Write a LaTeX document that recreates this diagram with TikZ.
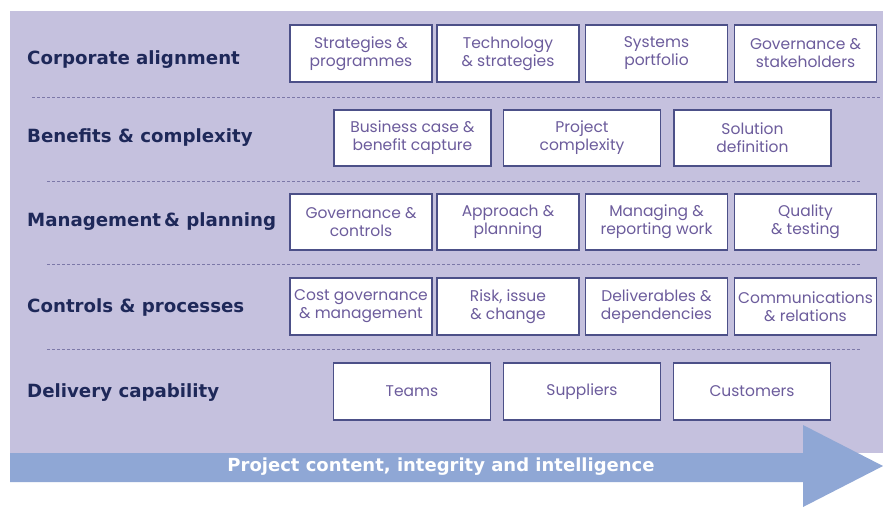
\documentclass[tikz,border=0pt]{standalone}
\usepackage{fontspec}
\setmainfont{DejaVu Sans}
\newfontfamily\boxfont{Poppins}
\definecolor{lav}{HTML}{C5C1DE}
\definecolor{arrowblue}{HTML}{8FA7D5}
\definecolor{navy}{HTML}{1E2859}
\definecolor{boxtext}{HTML}{6C5C9C}
\definecolor{boxline}{HTML}{4C5088}
\definecolor{dashcol}{HTML}{7C78A8}
\tikzset{
  cell/.style={draw=boxline, line width=1.5pt, fill=white, inner sep=0pt,
    minimum height=56pt, align=center, text=boxtext,
    font=\boxfont\fontsize{15.5}{18}\selectfont},
  wide/.style={cell, minimum width=142pt},
  wider/.style={cell, minimum width=157pt},
  rowlabel/.style={anchor=west, text=navy, inner sep=0pt,
    font=\bfseries\fontsize{18.2}{21}\selectfont},
  sep/.style={draw=dashcol, line width=1pt, dash pattern=on 3pt off 2pt},
}
\begin{document}
\begin{tikzpicture}[x=1pt,y=-1pt]
\useasboundingbox (0,0) rectangle (883,507);
\fill[white] (0,0) rectangle (883,507);
\fill[lav] (10,11) rectangle (883,453);
\fill[arrowblue] (10,453) -- (803,453) -- (803,425) -- (883,466) -- (803,507) -- (803,482) -- (10,482) -- cycle;
\node[text=white, font=\bfseries\fontsize{18}{20}\selectfont, inner sep=0pt] (arrowtext) at (441,467) {Project content, integrity and intelligence};

% separators
\coordinate (s1a) at (32,97);  \coordinate (s1b) at (881,97);
\coordinate (s2a) at (47,181); \coordinate (s2b) at (860,181);
\coordinate (s3a) at (47,264); \coordinate (s3b) at (860,264);
\coordinate (s4a) at (47,349); \coordinate (s4b) at (860,349);
\draw[sep] (s1a) -- (s1b);
\draw[sep] (s2a) -- (s2b);
\draw[sep] (s3a) -- (s3b);
\draw[sep] (s4a) -- (s4b);

% row labels
\node[rowlabel] (l1) at (27,60) {Corporate alignment};
\node[rowlabel] (l2) at (27,138) {Benefits \& complexity};
\node[rowlabel] (l3) at (27,222) {Management\,\& planning};
\node[rowlabel] (l4) at (27,307) {Controls \& processes};
\node[rowlabel] (l5) at (27,393) {Delivery capability};

% row 1
\node[wide, minimum height=57pt] (a1) at (361,53.5) {Strategies \&\\programmes};
\node[wide, minimum height=57pt] (a2) at (508,53.5) {Technology\\\& strategies};
\node[wide, minimum height=57pt] (a3) at (656.5,53.5) {Systems\\portfolio};
\node[wide, minimum height=57pt] (a4) at (805.5,53.5) {Governance \&\\stakeholders};
% row 2
\node[wider] (b1) at (412.5,138) {Business case \&\\benefit capture};
\node[wider] (b2) at (582,138) {Project\\complexity};
\node[wider] (b3) at (752.5,138) {Solution\\definition};
% row 3
\node[wide] (c1) at (361,222) {Governance \&\\controls};
\node[wide] (c2) at (508,222) {Approach \&\\planning};
\node[wide] (c3) at (656.5,222) {Managing \&\\reporting work};
\node[wide] (c4) at (805.5,222) {Quality\\\& testing};
% row 4
\node[wide, minimum height=57pt] (d1) at (361,306.5) {Cost governance\\\& management};
\node[wide, minimum height=57pt] (d2) at (508,306.5) {Risk, issue\\\& change};
\node[wide, minimum height=57pt] (d3) at (656.5,306.5) {Deliverables \&\\dependencies};
\node[wide, minimum height=57pt] (d4) at (805.5,306.5) {Communications\\\& relations};
% row 5
\node[wider, minimum height=57pt] (e1) at (412,391.5) {Teams};
\node[wider, minimum height=57pt] (e2) at (582,391.5) {Suppliers};
\node[wider, minimum height=57pt] (e3) at (752,391.5) {Customers};
\end{tikzpicture}
\end{document}
